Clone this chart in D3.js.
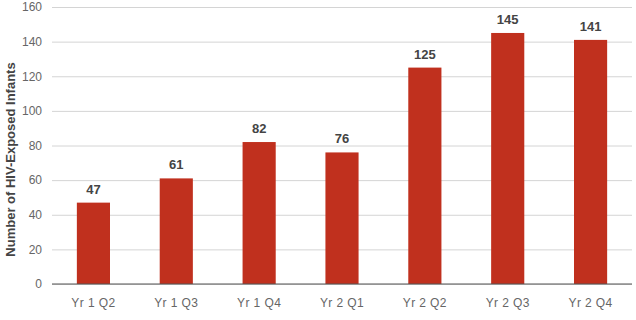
<!DOCTYPE html>
<html><head><meta charset="utf-8">
<script src="https://cdn.jsdelivr.net/npm/d3@7"></script>
<style>body{margin:0;background:#fff}svg{display:block;font-family:"Liberation Sans",Arial,sans-serif}</style>
</head><body><svg id="c" width="636" height="320"></svg>
<script>
const categories = ["Yr 1 Q2","Yr 1 Q3","Yr 1 Q4","Yr 2 Q1","Yr 2 Q2","Yr 2 Q3","Yr 2 Q4"];
const values = [47,61,82,76,125,145,141];
const yTicks = [0,20,40,60,80,100,120,140,160];
const yTitle = "Number of HIV-Exposed Infants";

const svg = d3.select("#c");
const m = {l:52, r:4, t:7, b:36};
const W = 636, H = 320;
const x = d3.scaleBand().domain(categories).range([m.l, W-m.r]).paddingInner(0.6).paddingOuter(0.3);
const y = d3.scaleLinear().domain([0,160]).range([H-m.b, m.t]);

const ga = svg.append("g").attr("transform",`translate(${m.l},0)`)
  .call(d3.axisLeft(y).tickValues(yTicks).tickSize(-(W-m.r-m.l)).tickPadding(10));
ga.select(".domain").remove();
ga.selectAll(".tick line").attr("stroke","#d4d4d4").attr("stroke-width",1);
ga.selectAll(".tick text").attr("fill","#666").attr("font-size",12).attr("font-family","Liberation Sans, Arial, sans-serif");

svg.append("g").selectAll("rect").data(values).join("rect")
  .attr("x",(d,i)=>x(categories[i])).attr("width",x.bandwidth())
  .attr("y",d=>y(d)).attr("height",d=>y(0)-y(d)).attr("fill","#c0301e");

svg.append("line").attr("x1",m.l).attr("x2",W-m.r).attr("y1",y(0)).attr("y2",y(0)).attr("stroke","#555").attr("stroke-width",1.2);

const gx = svg.append("g").attr("transform",`translate(0,${y(0)})`)
  .call(d3.axisBottom(x).tickSize(0).tickPadding(14));
gx.select(".domain").remove();
gx.selectAll(".tick text").attr("fill","#666").attr("font-size",12).attr("letter-spacing",0.4).attr("font-family","Liberation Sans, Arial, sans-serif");

svg.append("g").selectAll("text").data(values).join("text")
  .attr("x",(d,i)=>x(categories[i])+x.bandwidth()/2).attr("y",d=>y(d)-9)
  .attr("text-anchor","middle").attr("font-size",13).attr("font-weight","bold").attr("fill","#444")
  .text(d=>d);

svg.append("text").attr("transform",`translate(15,${(m.t+H-m.b)/2+14}) rotate(-90)`)
  .attr("text-anchor","middle").attr("font-size",13).attr("font-weight","bold").attr("fill","#444").text(yTitle);
</script></body></html>
